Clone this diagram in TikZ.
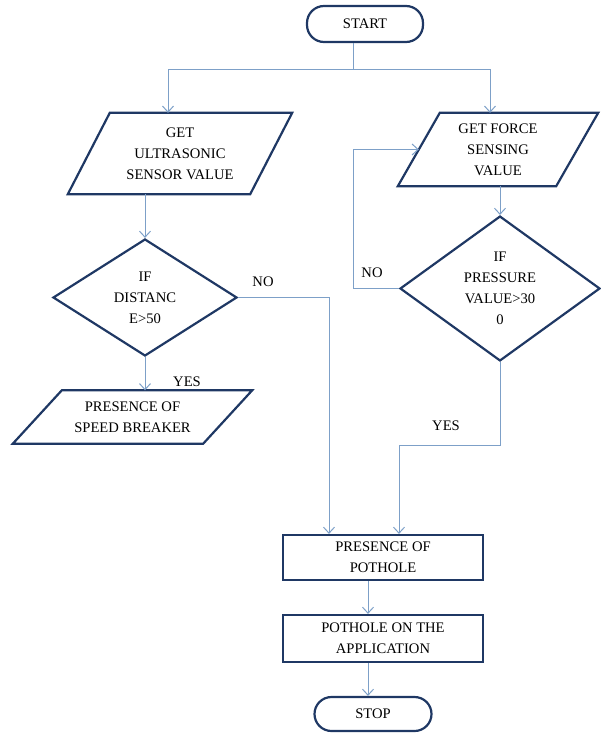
\documentclass[tikz,border=0pt]{standalone}
\usepackage{fontspec}
\setmainfont{Liberation Serif}
\newfontfamily\flowfont{Liberation Serif}
\usetikzlibrary{shapes.geometric,arrows.meta}
\definecolor{navy}{RGB}{31,56,100}
\definecolor{connc}{RGB}{125,160,200}
\begin{document}
\begin{tikzpicture}[x=1pt,y=-1pt,
  every node/.style={font=\flowfont\fontsize{14.6}{21}\selectfont, align=center, inner sep=0pt, text=black},
  outline/.style={draw=navy, line width=2.2pt},
  term/.style={outline, rounded corners=17pt},
  cond/.style={outline, diamond},
  procbox/.style={outline, rectangle},
  conn/.style={draw=connc, line width=1pt, -{Straight Barb[length=6pt,width=11pt]}},
  plain/.style={draw=connc, line width=1pt}]
\useasboundingbox (0,0) rectangle (601,733);

% nodes
\node[term, minimum width=116pt, minimum height=36pt] (start) at (365,24) {START};
\node[minimum width=224pt, minimum height=81pt] (get) at (180,153.5) {GET\\ULTRASONIC\\SENSOR VALUE};
\draw[outline] ([xshift=42pt]get.north west) -- (get.north east) -- ([xshift=-42pt]get.south east) -- (get.south west) -- cycle;
\node[minimum width=200pt, minimum height=73pt] (force) at (498,149.5) {GET FORCE\\SENSING\\VALUE};
\draw[outline] ([xshift=42pt]force.north west) -- (force.north east) -- ([xshift=-42pt]force.south east) -- (force.south west) -- cycle;
\coordinate (forceL) at ([xshift=21pt]force.west);
\node[cond, minimum width=184pt, minimum height=117pt] (d1) at (145,297.5) {IF\\DISTANC\\E>50};
\node[cond, minimum width=200pt, minimum height=133pt] (d2) at (500,288.5) {IF\\PRESSURE\\VALUE>30\\0};
\node[minimum width=239pt, minimum height=53pt] (speed) at (132.5,417) {PRESENCE OF\\SPEED BREAKER};
\draw[outline] ([xshift=49pt]speed.north west) -- (speed.north east) -- ([xshift=-49pt]speed.south east) -- (speed.south west) -- cycle;
\node[procbox, minimum width=200pt, minimum height=45pt] (pot) at (383,557.5) {PRESENCE OF\\POTHOLE};
\node[procbox, minimum width=200pt, minimum height=47pt] (app) at (383,638.5) {POTHOLE ON THE\\APPLICATION};
\node[term, minimum width=117pt, minimum height=34pt] (stop) at (373,714) {STOP};

% labels
\node (no1) at (263,282) {NO};
\node (yes1) at (187,382) {YES};
\node (no2) at (372,273) {NO};
\node (yes2) at (446,426) {YES};

% connectors
\coordinate (split) at (353,70);
\draw[plain] ([xshift=-12pt]start.south) -- (split);
\draw[conn] (split) -| ([xshift=-12pt]get.north);
\draw[conn] (split) -| ([xshift=-8pt]force.north);
\draw[conn] ([xshift=-35pt]get.south) -- (d1.north);
\draw[conn] (d1.south) -- (d1.south |- speed.north);
\draw[conn] (d1.east) -| ([xshift=-54pt]pot.north);
\draw[conn] (d2.north |- force.south) -- (d2.north);
\coordinate (lp) at (353,149.5);
\draw[conn] (d2.west) -| (lp) -- (forceL);
\coordinate (yb) at (399,445);
\draw[conn] (d2.south) |- (yb) -- (yb |- pot.north);
\draw[conn] ([xshift=-15pt]pot.south) -- ([xshift=-15pt]app.north);
\draw[conn] ([xshift=-15pt]app.south) -- ([xshift=-15pt]app.south |- stop.north);
\end{tikzpicture}
\end{document}
